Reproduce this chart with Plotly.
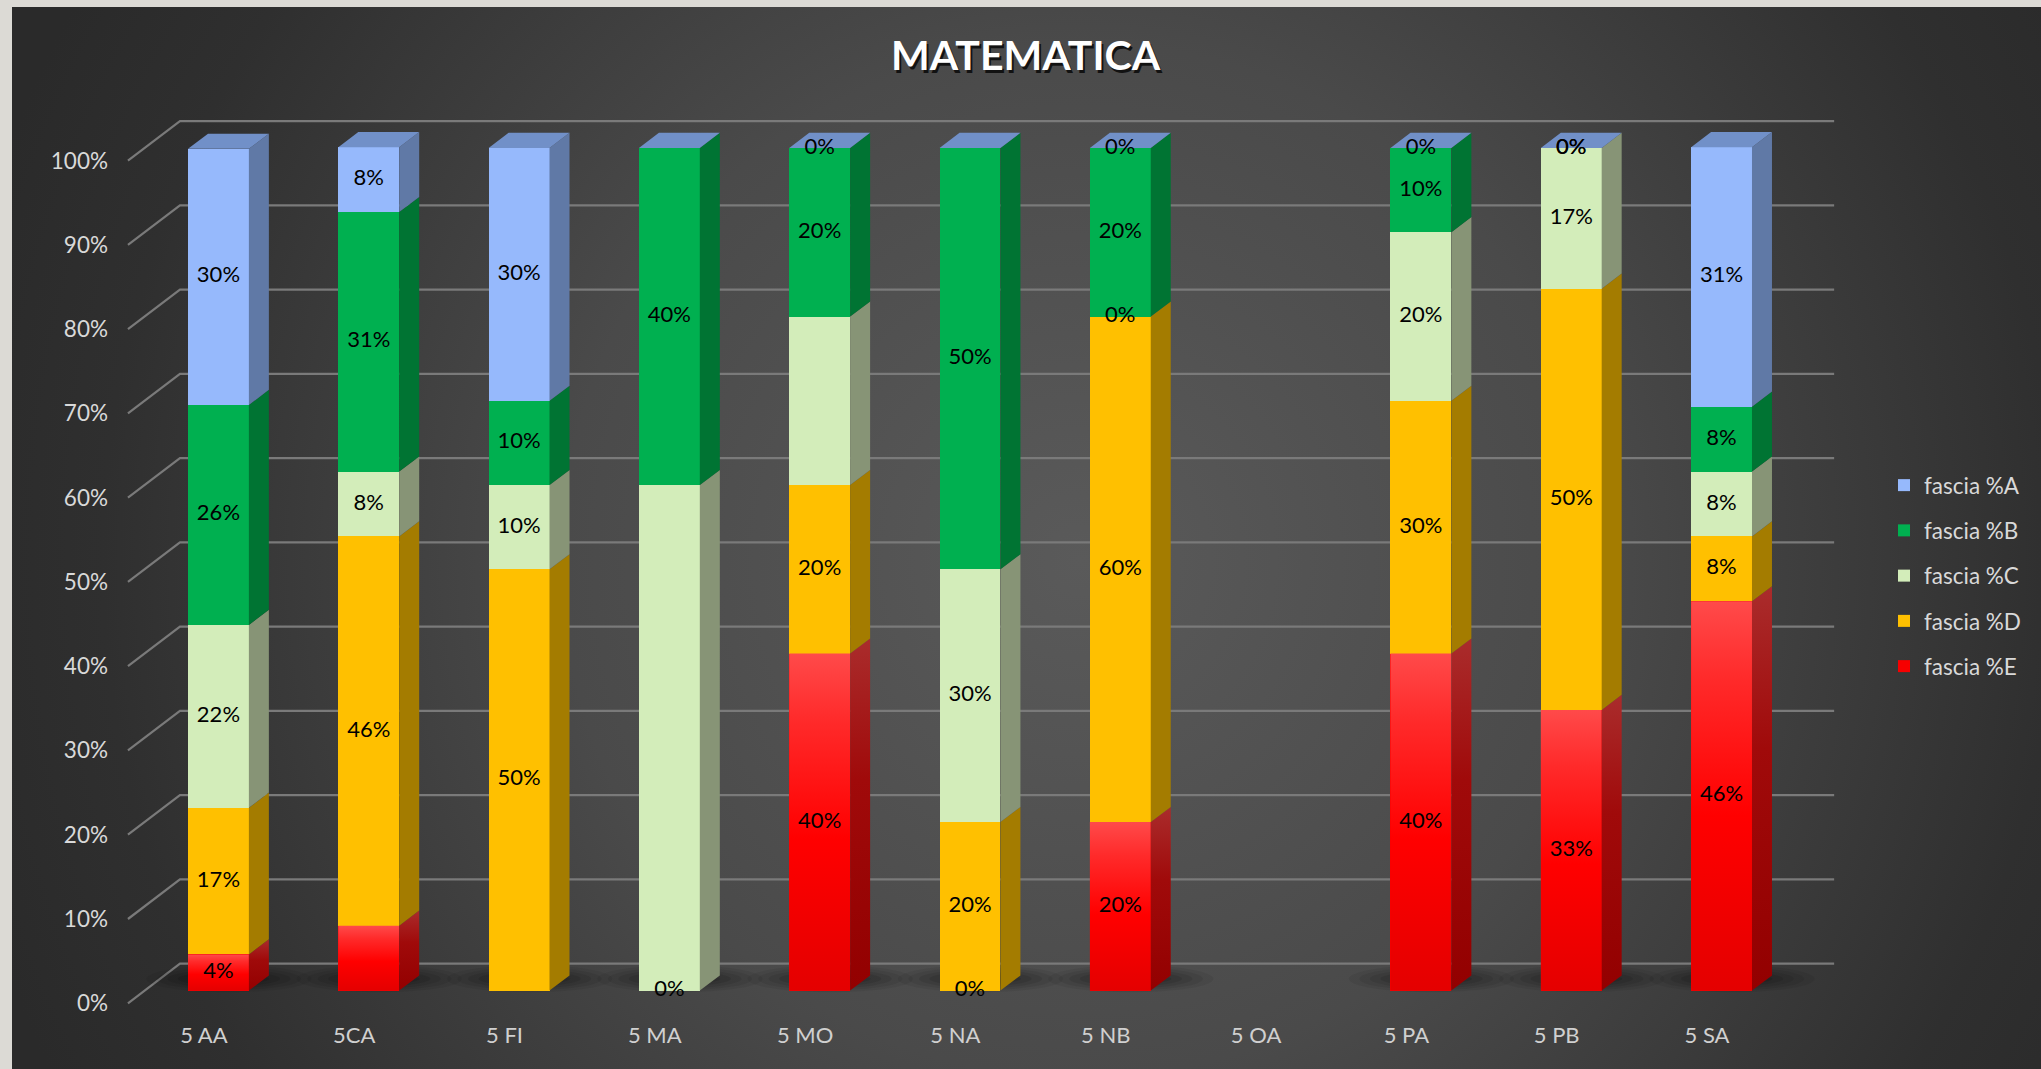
import base64
import plotly.graph_objects as go

# ---------------- data ----------------
categories = ["5 AA", "5CA", "5 FI", "5 MA", "5 MO", "5 NA", "5 NB", "5 OA", "5 PA", "5 PB", "5 SA"]
fascia_A = [30.4, 7.7, 30.0, None, 0.0, None, 0.0, None, 0.0, 0.0, 30.8]
fascia_B = [26.1, 30.8, 10.0, 40.0, 20.0, 50.0, 20.0, None, 10.0, 0.0, 7.7]
fascia_C = [21.7, 7.7, 10.0, 60.0, 20.0, 30.0, 0.0, None, 20.0, 16.7, 7.7]
fascia_D = [17.4, 46.2, 50.0, 0.0, 20.0, 20.0, 60.0, None, 30.0, 50.0, 7.7]
fascia_E = [4.3, 7.7, None, None, 40.0, 0.0, 20.0, None, 40.0, 33.3, 46.2]
series_names = ["fascia %E", "fascia %D", "fascia %C", "fascia %B", "fascia %A"]  # bottom -> top
hidden_labels = [("5CA", "fascia %E"), ("5 MA", "fascia %C"), ("5 MO", "fascia %C")]
y_ticks = [0, 10, 20, 30, 40, 50, 60, 70, 80, 90, 100]
y_tick_labels = ["0%", "10%", "20%", "30%", "40%", "50%", "60%", "70%", "80%", "90%", "100%"]

series_values = [fascia_E, fascia_D, fascia_C, fascia_B, fascia_A]

# ---------------- styles ----------------
front_colors = {"fascia %A": "#96B9FC", "fascia %B": "#00B050", "fascia %C": "#D3EDBA",
                "fascia %D": "#FFC000", "fascia %E": "#F70000"}
side_colors = {"fascia %A": "#6079A6", "fascia %B": "#007433", "fascia %C": "#879476",
               "fascia %D": "#A47C00", "fascia %E": "#A01010"}
top_color = "#7190C8"
legend_rank = {"fascia %A": 1, "fascia %B": 2, "fascia %C": 3, "fascia %D": 4, "fascia %E": 5}
FONT = "Lato, 'Open Sans', sans-serif"

BAR_W = 0.405
DEPTH_X = 0.133
DEPTH_Y = 1.8
GRID_SHIFT = 3.2
LABEL_SHIFT = -1.5
X_RANGE = [-0.788, 10.788]
Y_RANGE = [-2.30, 105.70]
WALL_X0, WALL_X1, SLANT_X0 = -0.256, 10.749, -0.602

W, H = 2041, 1069
ML, MR, MT, MB = 100, 201, 100, 59
PW, PH = W - ML - MR, H - MT - MB

fig = go.Figure()

# ---------------- front faces (bars) ----------------
xs_idx = list(range(len(categories)))
for name, vals in zip(series_names, series_values):
    fig.add_trace(go.Bar(
        x=xs_idx, y=[v if v is not None else 0 for v in vals], name=name,
        width=BAR_W, marker=dict(color=front_colors[name], line=dict(width=0)),
        legendgroup=name, legendrank=legend_rank[name], hoverinfo="skip"))

# cumulative bases
bases = []
cum = [0.0] * len(categories)
for vals in series_values:
    bases.append(list(cum))
    cum = [c + (v or 0) for c, v in zip(cum, vals)]
totals = cum

# ---------------- red gradient front overlays ----------------
e_idx = series_names.index("fascia %E")
for i, v in enumerate(series_values[e_idx]):
    if v:
        xl, xr = i - BAR_W / 2, i + BAR_W / 2
        y0 = bases[e_idx][i]
        y1 = y0 + v
        fig.add_trace(go.Scatter(
            x=[xl, xr, xr, xl, xl], y=[y0, y0, y1, y1, y0], mode="lines",
            line=dict(width=0, color="rgba(0,0,0,0)"), fill="toself",
            fillgradient=dict(type="vertical", start=y0, stop=y1,
                              colorscale=[[0, "#E40000"], [0.45, "#FF0000"], [0.8, "#FF2A2A"], [1, "#FF4A4A"]]),
            showlegend=False, hoverinfo="skip"))
        fig.add_trace(go.Scatter(
            x=[xr, xr + DEPTH_X, xr + DEPTH_X, xr, xr],
            y=[y0, y0 + DEPTH_Y, y1 + DEPTH_Y, y1, y0], mode="lines",
            line=dict(width=0, color="rgba(0,0,0,0)"), fill="toself",
            fillgradient=dict(type="vertical", start=y0, stop=y1 + DEPTH_Y,
                              colorscale=[[0, "#930000"], [0.6, "#A00A0A"], [1, "#AA2C2C"]]),
            showlegend=False, hoverinfo="skip"))

# ---------------- side faces ----------------
for k, (name, vals) in enumerate(zip(series_names, series_values)):
    if name == "fascia %E":
        continue
    px, py = [], []
    for i, v in enumerate(vals):
        if v is None:
            continue
        xr = i + BAR_W / 2
        y0 = bases[k][i]
        y1 = y0 + v
        px += [xr, xr + DEPTH_X, xr + DEPTH_X, xr, xr, None]
        py += [y0, y0 + DEPTH_Y, y1 + DEPTH_Y, y1, y0, None]
    fig.add_trace(go.Scatter(x=px, y=py, mode="lines", fill="toself",
                             fillcolor=side_colors[name],
                             line=dict(width=0, color="rgba(0,0,0,0)"),
                             showlegend=False, hoverinfo="skip"))

# ---------------- top faces ----------------
tx, ty = [], []
for i, t in enumerate(totals):
    if t > 0:
        xl, xr = i - BAR_W / 2, i + BAR_W / 2
        tx += [xl, xl + DEPTH_X, xr + DEPTH_X, xr, xl, None]
        ty += [t, t + DEPTH_Y, t + DEPTH_Y, t, t, None]
fig.add_trace(go.Scatter(x=tx, y=ty, mode="lines", fill="toself", fillcolor=top_color,
                         line=dict(width=0, color="rgba(0,0,0,0)"),
                         showlegend=False, hoverinfo="skip"))

# ---------------- data labels ----------------
hidden = set(hidden_labels)
lx, ly, lt = [], [], []
for k, (name, vals) in enumerate(zip(series_names, series_values)):
    for i, v in enumerate(vals):
        if v is None or (categories[i], name) in hidden:
            continue
        lx.append(i)
        ly.append(bases[k][i] + v / 2)
        lt.append(f"{round(v):.0f}%")
fig.add_trace(go.Scatter(x=lx, y=ly, text=lt, mode="text", textposition="middle center",
                         textfont=dict(family=FONT, size=22, color="#000000"),
                         showlegend=False, hoverinfo="skip"))

# dummy traces so the label axes exist
fig.add_trace(go.Scatter(x=[None], y=[None], xaxis="x3", yaxis="y", showlegend=False, hoverinfo="skip"))
fig.add_trace(go.Scatter(x=[None], y=[None], xaxis="x", yaxis="y3", showlegend=False, hoverinfo="skip"))

# ---------------- back-wall gridlines + slanted side lines ----------------
shapes = []
for v in y_ticks:
    shapes.append(dict(type="path", xref="x", yref="y", layer="below",
                       path=f"M{SLANT_X0},{v + LABEL_SHIFT} L{WALL_X0},{v + GRID_SHIFT} L{WALL_X1},{v + GRID_SHIFT}",
                       line=dict(color="#7A7A7A", width=2.2)))

# soft floor shadows behind each non-empty bar
for i, t in enumerate(totals):
    if t > 0:
        cx = i + 0.07
        for rx, ry, op in [(0.55, 1.6, 0.06), (0.48, 1.35, 0.07), (0.41, 1.1, 0.08),
                           (0.34, 0.85, 0.09), (0.27, 0.6, 0.10)]:
            shapes.append(dict(type="circle", xref="x", yref="y", layer="below",
                               x0=cx - rx, x1=cx + rx, y0=1.4 - ry, y1=1.4 + ry,
                               fillcolor=f"rgba(0,0,0,{op})", line=dict(width=0)))

# ---------------- background ----------------
svg = f"""<svg xmlns='http://www.w3.org/2000/svg' width='{W}' height='{H}' viewBox='0 0 {W} {H}'>
<defs><radialGradient id='g' gradientUnits='userSpaceOnUse' cx='1080' cy='560' r='1150'>
<stop offset='0' stop-color='#5A5A5A'/><stop offset='0.45' stop-color='#4A4A4A'/>
<stop offset='0.85' stop-color='#2F2F2F'/><stop offset='1' stop-color='#2A2A2A'/></radialGradient></defs>
<rect x='0' y='0' width='{W}' height='{H}' fill='#DCDAD5'/>
<rect x='12' y='7' width='{W - 12}' height='{H - 7}' fill='url(#g)'/>
</svg>"""
img_src = "data:image/svg+xml;base64," + base64.b64encode(svg.encode()).decode()

annotations = [
    dict(text="<b>MATEMATICA</b>", xref="paper", yref="paper", x=(1026 - ML) / PW, y=(PH + MT - 55) / PH,
         xanchor="center", yanchor="middle", showarrow=False, xshift=2, yshift=-3,
         font=dict(family=FONT, size=41, color="rgba(0,0,0,0.75)")),
    dict(text="<b>MATEMATICA</b>", xref="paper", yref="paper", x=(1026 - ML) / PW, y=(PH + MT - 55) / PH,
         xanchor="center", yanchor="middle", showarrow=False,
         font=dict(family=FONT, size=41, color="#FFFFFF")),
]

fig.update_layout(
    width=W, height=H, margin=dict(l=ML, r=MR, t=MT, b=MB, autoexpand=False),
    barmode="stack", bargap=0,
    paper_bgcolor="#2C2C2C", plot_bgcolor="rgba(0,0,0,0)",
    images=[dict(source=img_src, xref="paper", yref="paper", x=-ML / PW, y=1 + MT / PH,
                 sizex=W / PW, sizey=H / PH, xanchor="left", yanchor="top",
                 sizing="stretch", layer="below")],
    shapes=shapes, annotations=annotations,
    xaxis=dict(range=X_RANGE, showticklabels=False, showgrid=False, zeroline=False, showline=False),
    xaxis3=dict(range=[X_RANGE[0] + 0.097, X_RANGE[1] + 0.097], overlaying="x", anchor="y", side="bottom",
                tickmode="array", tickvals=xs_idx, ticktext=categories, showgrid=False, zeroline=False,
                showline=False, ticks="", ticklabelstandoff=10,
                tickfont=dict(family=FONT, size=22, color="#D0D0D0")),
    yaxis=dict(range=Y_RANGE, showticklabels=False, showgrid=False, zeroline=False, showline=False),
    yaxis3=dict(range=[Y_RANGE[0] - LABEL_SHIFT, Y_RANGE[1] - LABEL_SHIFT], overlaying="y", anchor="free",
                position=8 / PW, side="left", tickmode="array", tickvals=y_ticks, ticktext=y_tick_labels,
                showgrid=False, zeroline=False, showline=False, ticks="",
                tickfont=dict(family=FONT, size=22.5, color="#D9D9D9")),
    legend=dict(x=(1884 - ML) / PW, xanchor="left", y=(PH + MT - 464) / PH, yanchor="top",
                bgcolor="rgba(0,0,0,0)", font=dict(family=FONT, size=22.5, color="#D9D9D9"),
                tracegroupgap=13, itemclick=False),
    showlegend=True,
)

fig.write_html("out.html", config={"displayModeBar": False},
               post_script="document.body.style.margin='0';document.body.style.overflow='hidden';")
